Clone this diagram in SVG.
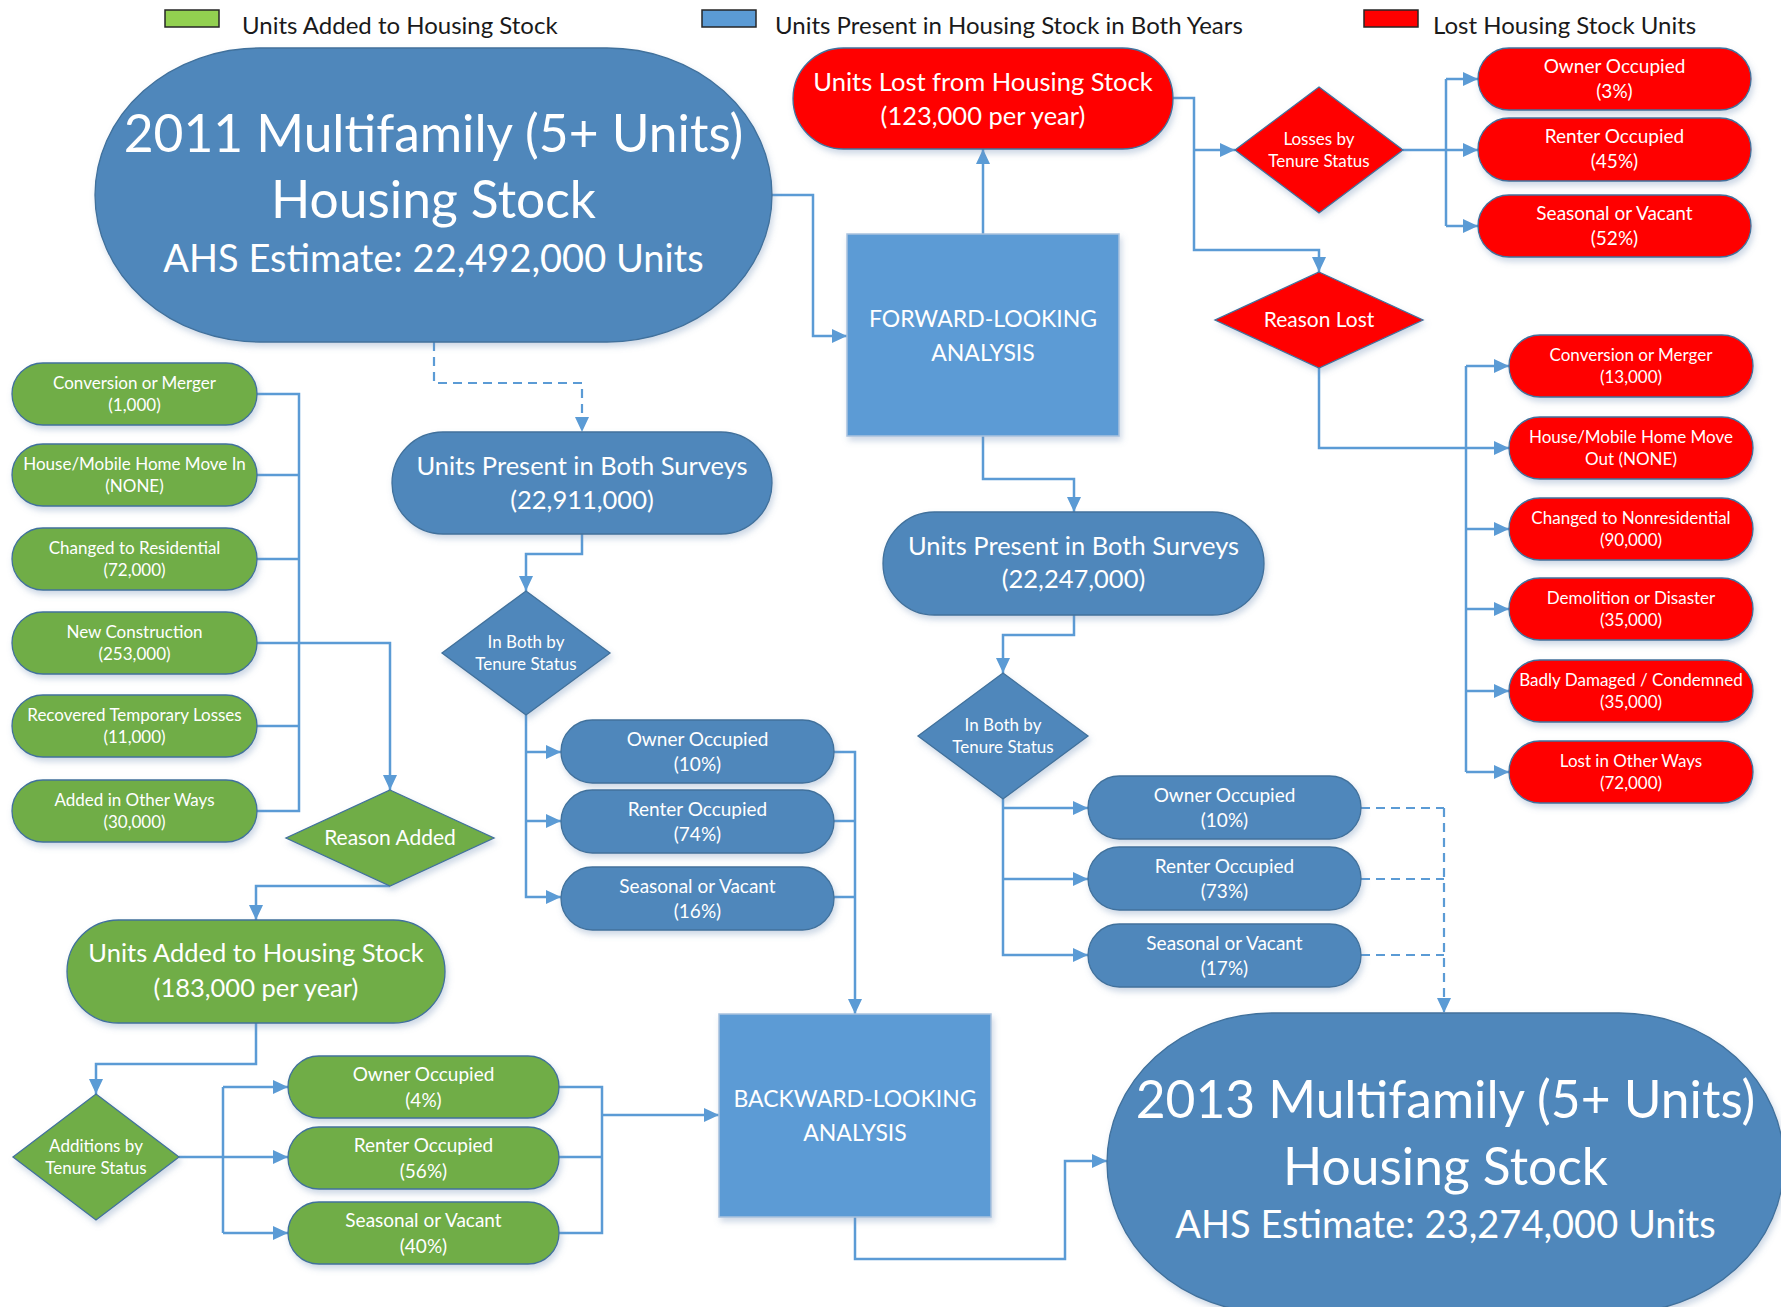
<svg xmlns="http://www.w3.org/2000/svg" width="1781" height="1307" viewBox="0 0 1781 1307">
<style>
.t{font-family:Lato,"Open Sans","Liberation Sans",sans-serif;fill:#fff;text-anchor:middle}
.lg{font-family:Lato,"Open Sans","Liberation Sans",sans-serif;fill:#1a1a1a;font-size:24px}
.big{font-size:51.5px}.b3{font-size:38px}.med{font-size:25.5px}.sm{font-size:17px}.ten{font-size:19px}.dia{font-size:21px}.an{font-size:23px}
.blue{fill:#4F87BB;stroke:#41719C;stroke-width:1.3}
.green{fill:#70AD47;stroke:#41719C;stroke-width:1.3}
.red{fill:#FF0000;stroke:#41719C;stroke-width:1.3}
.ana{fill:#5B9BD5;stroke:#A9C2DE;stroke-width:1.5}
.c{fill:none;stroke:#5B9BD5;stroke-width:2.5}
.d{stroke-dasharray:9 6;stroke-width:2.2}
.sh{filter:url(#sh)}
</style>
<defs>
<filter id="sh" x="-10%" y="-10%" width="125%" height="140%">
<feDropShadow dx="2" dy="4" stdDeviation="3" flood-color="#6F8FB5" flood-opacity="0.35"/>
</filter>
<marker id="ah" viewBox="0 0 15 14" refX="15" refY="7" markerWidth="15" markerHeight="14" markerUnits="userSpaceOnUse" orient="auto">
<path d="M0,0 L15,7 L0,14 z" fill="#5B9BD5"/>
</marker>
</defs>
<rect width="1781" height="1307" fill="#fff"/>

<g id="legend">
<rect x="165" y="10" width="54" height="17" fill="#92D050" stroke="#262626" stroke-width="1.5"/>
<text class="lg" x="242" y="34">Units Added to Housing Stock</text>
<rect x="702" y="10" width="54" height="17" fill="#5B9BD5" stroke="#262626" stroke-width="1.5"/>
<text class="lg" x="775" y="34">Units Present in Housing Stock in Both Years</text>
<rect x="1364" y="10" width="54" height="17" fill="#FF0000" stroke="#262626" stroke-width="1.5"/>
<text class="lg" x="1433" y="34">Lost Housing Stock Units</text>
</g>

<g id="connectors">
<path class="c" d="M772,195 H813 V336 H847" marker-end="url(#ah)"/>
<path class="c" d="M983,234 V149" marker-end="url(#ah)"/>
<path class="c" d="M1173,98 H1194 V250 H1319 V272" marker-end="url(#ah)"/>
<path class="c" d="M1194,150 H1235" marker-end="url(#ah)"/>
<path class="c" d="M1403,150 H1478" marker-end="url(#ah)"/>
<path class="c" d="M1446,79 V226"/>
<path class="c" d="M1446,79 H1478" marker-end="url(#ah)"/>
<path class="c" d="M1446,226 H1478" marker-end="url(#ah)"/>
<path class="c" d="M1319,368 V448 H1509" marker-end="url(#ah)"/>
<path class="c" d="M1466,366 V772"/>
<path class="c" d="M1466,366 H1509" marker-end="url(#ah)"/>
<path class="c" d="M1466,529 H1509" marker-end="url(#ah)"/>
<path class="c" d="M1466,609 H1509" marker-end="url(#ah)"/>
<path class="c" d="M1466,691 H1509" marker-end="url(#ah)"/>
<path class="c" d="M1466,772 H1509" marker-end="url(#ah)"/>
<path class="c" d="M983,436 V479 H1074 V512" marker-end="url(#ah)"/>
<path class="c" d="M1074,615 V635 H1003 V673" marker-end="url(#ah)"/>
<path class="c" d="M1003,799 V955 H1088" marker-end="url(#ah)"/>
<path class="c" d="M1003,808 H1088" marker-end="url(#ah)"/>
<path class="c" d="M1003,879 H1088" marker-end="url(#ah)"/>
<path class="c d" d="M1361,808 H1444"/>
<path class="c d" d="M1361,879 H1444"/>
<path class="c d" d="M1361,955 H1444"/>
<path class="c d" d="M1444,808 V1013" marker-end="url(#ah)"/>
<path class="c d" d="M434,342 V383 H582 V432" marker-end="url(#ah)"/>
<path class="c" d="M582,534 V554 H526 V591" marker-end="url(#ah)"/>
<path class="c" d="M526,715 V897 H561" marker-end="url(#ah)"/>
<path class="c" d="M526,752 H561" marker-end="url(#ah)"/>
<path class="c" d="M526,821 H561" marker-end="url(#ah)"/>
<path class="c" d="M834,752 H855 V1014" marker-end="url(#ah)"/>
<path class="c" d="M834,821 H855"/>
<path class="c" d="M834,897 H855"/>
<path class="c" d="M257,394 H299 V811 H257"/>
<path class="c" d="M257,475 H299"/>
<path class="c" d="M257,559 H299"/>
<path class="c" d="M257,726 H299"/>
<path class="c" d="M257,643 H390 V790" marker-end="url(#ah)"/>
<path class="c" d="M390,886 H256 V920" marker-end="url(#ah)"/>
<path class="c" d="M256,1023 V1064 H96 V1094" marker-end="url(#ah)"/>
<path class="c" d="M179,1157 H288" marker-end="url(#ah)"/>
<path class="c" d="M223,1087 V1233"/>
<path class="c" d="M223,1087 H288" marker-end="url(#ah)"/>
<path class="c" d="M223,1233 H288" marker-end="url(#ah)"/>
<path class="c" d="M559,1087 H602 V1233 H559"/>
<path class="c" d="M559,1157 H602"/>
<path class="c" d="M602,1115 H719" marker-end="url(#ah)"/>
<path class="c" d="M855,1217 V1259 H1065 V1161 H1107" marker-end="url(#ah)"/>
</g>

<g id="stock2011">
<rect class="blue sh" x="95" y="48" width="677" height="294" rx="165" ry="147"/>
<text class="t big" x="433.5" y="152">2011 Multifamily (5+ Units)</text>
<text class="t big" x="433.5" y="218">Housing Stock</text>
<text class="t b3" x="433.5" y="272">AHS Estimate: 22,492,000 Units</text>
</g>

<g id="unitsLost">
<rect class="red sh" x="793" y="48" width="380" height="101" rx="50.5"/>
<text class="t med" x="983" y="91">Units Lost from Housing Stock</text>
<text class="t med" x="983" y="125">(123,000 per year)</text>
</g>

<g id="lossesTenure">
<polygon class="red sh" points="1319,87 1403,150 1319,213 1235,150"/>
<text class="t sm" x="1319" y="145">Losses by</text>
<text class="t sm" x="1319" y="167">Tenure Status</text>
</g>

<g id="lostOwner">
<rect class="red sh" x="1478" y="48" width="273" height="62" rx="31"/>
<text class="t ten" x="1614.5" y="73">Owner Occupied</text>
<text class="t ten" x="1614.5" y="98">(3%)</text>
</g>
<g id="lostRenter">
<rect class="red sh" x="1478" y="118" width="273" height="63" rx="31"/>
<text class="t ten" x="1614.5" y="143">Renter Occupied</text>
<text class="t ten" x="1614.5" y="168">(45%)</text>
</g>
<g id="lostSeasonal">
<rect class="red sh" x="1478" y="195" width="273" height="62" rx="31"/>
<text class="t ten" x="1614.5" y="220">Seasonal or Vacant</text>
<text class="t ten" x="1614.5" y="245">(52%)</text>
</g>

<g id="reasonLost">
<polygon class="red sh" points="1319,272 1423,320 1319,368 1215,320"/>
<text class="t dia" x="1319" y="327">Reason Lost</text>
</g>

<g id="lostConversion">
<rect class="red sh" x="1509" y="335" width="244" height="62" rx="31"/>
<text class="t sm" x="1631" y="361">Conversion or Merger</text>
<text class="t sm" x="1631" y="383">(13,000)</text>
</g>
<g id="lostMoveOut">
<rect class="red sh" x="1509" y="417" width="244" height="62" rx="31"/>
<text class="t sm" x="1631" y="443">House/Mobile Home Move</text>
<text class="t sm" x="1631" y="465">Out (NONE)</text>
</g>
<g id="lostNonres">
<rect class="red sh" x="1509" y="498" width="244" height="62" rx="31"/>
<text class="t sm" x="1631" y="524">Changed to Nonresidential</text>
<text class="t sm" x="1631" y="546">(90,000)</text>
</g>
<g id="lostDemolition">
<rect class="red sh" x="1509" y="578" width="244" height="62" rx="31"/>
<text class="t sm" x="1631" y="604">Demolition or Disaster</text>
<text class="t sm" x="1631" y="626">(35,000)</text>
</g>
<g id="lostDamaged">
<rect class="red sh" x="1509" y="660" width="244" height="62" rx="31"/>
<text class="t sm" x="1631" y="686">Badly Damaged / Condemned</text>
<text class="t sm" x="1631" y="708">(35,000)</text>
</g>
<g id="lostOther">
<rect class="red sh" x="1509" y="741" width="244" height="62" rx="31"/>
<text class="t sm" x="1631" y="767">Lost in Other Ways</text>
<text class="t sm" x="1631" y="789">(72,000)</text>
</g>

<g id="forward">
<rect class="ana sh" x="847" y="234" width="272" height="202"/>
<text class="t an" x="983" y="327">FORWARD-LOOKING</text>
<text class="t an" x="983" y="361">ANALYSIS</text>
</g>

<g id="presentLeft">
<rect class="blue sh" x="392" y="432" width="380" height="102" rx="51"/>
<text class="t med" x="582" y="475">Units Present in Both Surveys</text>
<text class="t med" x="582" y="509">(22,911,000)</text>
</g>
<g id="bothTenureLeft">
<polygon class="blue sh" points="526,591 610,653 526,715 442,653"/>
<text class="t sm" x="526" y="648">In Both by</text>
<text class="t sm" x="526" y="670">Tenure Status</text>
</g>
<g id="bothOwnerLeft">
<rect class="blue sh" x="561" y="720" width="273" height="63" rx="31.5"/>
<text class="t ten" x="697.5" y="746">Owner Occupied</text>
<text class="t ten" x="697.5" y="771">(10%)</text>
</g>
<g id="bothRenterLeft">
<rect class="blue sh" x="561" y="790" width="273" height="63" rx="31.5"/>
<text class="t ten" x="697.5" y="816">Renter Occupied</text>
<text class="t ten" x="697.5" y="841">(74%)</text>
</g>
<g id="bothSeasonalLeft">
<rect class="blue sh" x="561" y="867" width="273" height="63" rx="31.5"/>
<text class="t ten" x="697.5" y="893">Seasonal or Vacant</text>
<text class="t ten" x="697.5" y="918">(16%)</text>
</g>

<g id="presentRight">
<rect class="blue sh" x="883" y="512" width="381" height="103" rx="51.5"/>
<text class="t med" x="1073.5" y="555">Units Present in Both Surveys</text>
<text class="t med" x="1073.5" y="588">(22,247,000)</text>
</g>
<g id="bothTenureRight">
<polygon class="blue sh" points="1003,673 1088,736 1003,799 918,736"/>
<text class="t sm" x="1003" y="731">In Both by</text>
<text class="t sm" x="1003" y="753">Tenure Status</text>
</g>
<g id="bothOwnerRight">
<rect class="blue sh" x="1088" y="776" width="273" height="63" rx="31.5"/>
<text class="t ten" x="1224.5" y="802">Owner Occupied</text>
<text class="t ten" x="1224.5" y="827">(10%)</text>
</g>
<g id="bothRenterRight">
<rect class="blue sh" x="1088" y="847" width="273" height="63" rx="31.5"/>
<text class="t ten" x="1224.5" y="873">Renter Occupied</text>
<text class="t ten" x="1224.5" y="898">(73%)</text>
</g>
<g id="bothSeasonalRight">
<rect class="blue sh" x="1088" y="924" width="273" height="63" rx="31.5"/>
<text class="t ten" x="1224.5" y="950">Seasonal or Vacant</text>
<text class="t ten" x="1224.5" y="975">(17%)</text>
</g>

<g id="addConversion">
<rect class="green sh" x="12" y="363" width="245" height="62" rx="31"/>
<text class="t sm" x="134.5" y="389">Conversion or Merger</text>
<text class="t sm" x="134.5" y="411">(1,000)</text>
</g>
<g id="addMoveIn">
<rect class="green sh" x="12" y="444" width="245" height="62" rx="31"/>
<text class="t sm" x="134.5" y="470">House/Mobile Home Move In</text>
<text class="t sm" x="134.5" y="492">(NONE)</text>
</g>
<g id="addResidential">
<rect class="green sh" x="12" y="528" width="245" height="62" rx="31"/>
<text class="t sm" x="134.5" y="554">Changed to Residential</text>
<text class="t sm" x="134.5" y="576">(72,000)</text>
</g>
<g id="addNew">
<rect class="green sh" x="12" y="612" width="245" height="62" rx="31"/>
<text class="t sm" x="134.5" y="638">New Construction</text>
<text class="t sm" x="134.5" y="660">(253,000)</text>
</g>
<g id="addRecovered">
<rect class="green sh" x="12" y="695" width="245" height="62" rx="31"/>
<text class="t sm" x="134.5" y="721">Recovered Temporary Losses</text>
<text class="t sm" x="134.5" y="743">(11,000)</text>
</g>
<g id="addOther">
<rect class="green sh" x="12" y="780" width="245" height="62" rx="31"/>
<text class="t sm" x="134.5" y="806">Added in Other Ways</text>
<text class="t sm" x="134.5" y="828">(30,000)</text>
</g>

<g id="reasonAdded">
<polygon class="green sh" points="390,790 494,838 390,886 286,838"/>
<text class="t dia" x="390" y="845">Reason Added</text>
</g>

<g id="unitsAdded">
<rect class="green sh" x="67" y="920" width="378" height="103" rx="51.5"/>
<text class="t med" x="256" y="962">Units Added to Housing Stock</text>
<text class="t med" x="256" y="997">(183,000 per year)</text>
</g>

<g id="additionsTenure">
<polygon class="green sh" points="96,1094 179,1157 96,1220 13,1157"/>
<text class="t sm" x="96" y="1152">Additions by</text>
<text class="t sm" x="96" y="1174">Tenure Status</text>
</g>
<g id="addOwner">
<rect class="green sh" x="288" y="1056" width="271" height="62" rx="31"/>
<text class="t ten" x="423.5" y="1081">Owner Occupied</text>
<text class="t ten" x="423.5" y="1107">(4%)</text>
</g>
<g id="addRenter">
<rect class="green sh" x="288" y="1127" width="271" height="62" rx="31"/>
<text class="t ten" x="423.5" y="1152">Renter Occupied</text>
<text class="t ten" x="423.5" y="1178">(56%)</text>
</g>
<g id="addSeasonal">
<rect class="green sh" x="288" y="1202" width="271" height="62" rx="31"/>
<text class="t ten" x="423.5" y="1227">Seasonal or Vacant</text>
<text class="t ten" x="423.5" y="1253">(40%)</text>
</g>

<g id="backward">
<rect class="ana sh" x="719" y="1014" width="272" height="203"/>
<text class="t an" x="855" y="1107">BACKWARD-LOOKING</text>
<text class="t an" x="855" y="1141">ANALYSIS</text>
</g>

<g id="stock2013">
<rect class="blue sh" x="1107" y="1013" width="677" height="300" rx="165" ry="150"/>
<text class="t big" x="1445.5" y="1118">2013 Multifamily (5+ Units)</text>
<text class="t big" x="1445.5" y="1185">Housing Stock</text>
<text class="t b3" x="1445.5" y="1238">AHS Estimate: 23,274,000 Units</text>
</g>
</svg>
